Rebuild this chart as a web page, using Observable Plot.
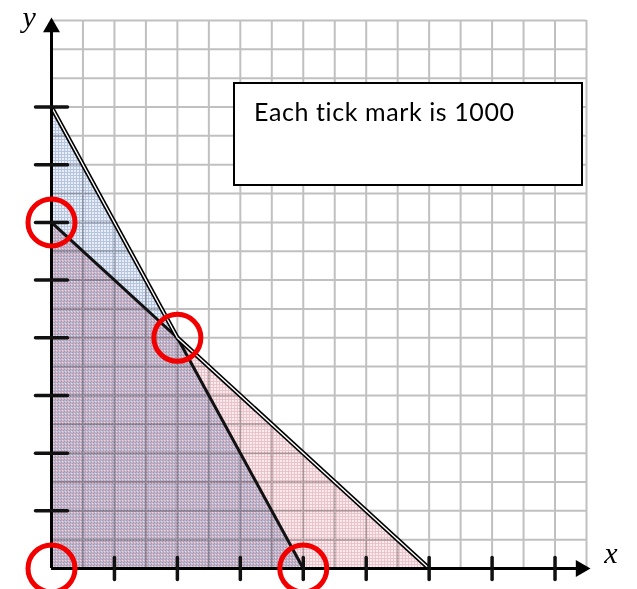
<!DOCTYPE html>
<html>
<head>
<meta charset="utf-8">
<script src="https://cdn.jsdelivr.net/npm/d3@7"></script>
<script src="https://cdn.jsdelivr.net/npm/@observablehq/plot@0.6"></script>
<style>
  html, body { margin: 0; padding: 0; background: #fff; }
  #wrap { position: relative; width: 637px; height: 589px; }
  #note {
    position: absolute; left: 233px; top: 82px; width: 350px; height: 104px;
    box-sizing: border-box; border: 2px solid #000; background: #fff;
    font-family: Lato, "Open Sans", sans-serif; font-size: 25px; line-height: 1;
    letter-spacing: 0.6px; color: #000;
  }
  #note span { position: absolute; left: 19px; top: 15px; white-space: nowrap; }
</style>
</head>
<body>
<div id="wrap"></div>
<script>
// Values in thousands: each tick mark is 1000
const xTicks = [1, 2, 3, 4, 5, 6, 7, 8];
const yTicks = [1, 2, 3, 4, 5, 6, 7, 8];

// Constraint boundaries (intercepts on each axis)
const lineA = [{x: 0, y: 8}, {x: 4, y: 0}];   // 2x + y = 8
const lineB = [{x: 0, y: 6}, {x: 6, y: 0}];   // x + y = 6
const corner = {x: 2, y: 4};                   // where the two boundaries meet

// Corner points of the feasible region
const vertices = [{x: 0, y: 0}, {x: 0, y: 6}, {x: 2, y: 4}, {x: 4, y: 0}];

const noteText = "Each tick mark is 1000";
const xLabel = "x";
const yLabel = "y";

// Grid extent (half-tick squares)
const xMax = 8.5, yMax = 9.5, step = 0.5;

// Outer edges drawn as double rules, inner edges as plain rules
const outerEdges = [[lineA[0], corner], [corner, lineB[1]]];
const innerEdges = [[lineB[0], corner], [corner, lineA[1]]];

// Hand-drawn style dash symbols for the tick marks
const dashH = {draw(ctx, size) { const r = Math.sqrt(size / Math.PI); ctx.moveTo(-r, 0); ctx.lineTo(r, 0); }};
const dashV = {draw(ctx, size) { const r = Math.sqrt(size / Math.PI); ctx.moveTo(0, -r); ctx.lineTo(0, r); }};

const seg = {x1: d => d[0].x, y1: d => d[0].y, x2: d => d[1].x, y2: d => d[1].y};

const chart = Plot.plot({
  width: 637,
  height: 589,
  marginLeft: 51,
  marginRight: 51,
  marginTop: 20,
  marginBottom: 21,
  x: {domain: [0, xMax], axis: null},
  y: {domain: [0, yMax], axis: null},
  marks: [
    // graph paper
    Plot.ruleX(d3.range(step, xMax + 1e-9, step), {y1: 0, y2: yMax, stroke: "#c0c0c0", strokeWidth: 2}),
    Plot.ruleY(d3.range(step, yMax + 1e-9, step), {x1: 0, x2: xMax, stroke: "#c0c0c0", strokeWidth: 2}),
    // shaded half-planes
    Plot.areaY(lineB, {x: "x", y: "y", fill: "url(#fillPink)", mixBlendMode: "multiply"}),
    Plot.areaY(lineA, {x: "x", y: "y", fill: "url(#fillBlue)", mixBlendMode: "multiply"}),
    // boundary lines
    Plot.link(innerEdges, {...seg, stroke: "#111", strokeWidth: 3}),
    Plot.link(outerEdges, {...seg, stroke: "#000", strokeWidth: 4.6}),
    Plot.link(outerEdges, {...seg, stroke: "#fff", strokeWidth: 1.4}),
    // axes
    Plot.ruleX([0], {y1: 0, y2: yMax, stroke: "#000", strokeWidth: 3}),
    Plot.ruleY([0], {x1: 0, x2: xMax, stroke: "#000", strokeWidth: 3}),
    Plot.dot([{x: 0, y: yMax}], {x: "x", y: "y", symbol: "triangle", r: 6.3, fill: "#000", dy: 6.8}),
    Plot.dot([{x: xMax, y: 0}], {x: "x", y: "y", symbol: "triangle", r: 6.3, fill: "#000", rotate: 90, dx: -5.8}),
    // tick marks
    Plot.dot(yTicks, {x: 0, y: d => d, symbol: dashH, r: 16, stroke: "#111", strokeWidth: 3.5, strokeLinecap: "round", fill: "none"}),
    Plot.dot(xTicks, {x: d => d, y: 0, symbol: dashV, r: 11, stroke: "#111", strokeWidth: 3.5, strokeLinecap: "round", fill: "none"}),
    // corner points
    Plot.dot(vertices, {x: "x", y: "y", r: 23.5, stroke: "#f20000", strokeWidth: 5, fill: "none"}),
    // axis names
    Plot.text([yLabel], {frameAnchor: "top-left", dx: -29, dy: -15, fontFamily: "Liberation Serif", fontStyle: "italic", fontSize: 30, fill: "#000"}),
    Plot.text([xLabel], {frameAnchor: "bottom-right", dx: 31, dy: -6, fontFamily: "Liberation Serif", fontStyle: "italic", fontSize: 30, fill: "#000"})
  ]
});

// Fine cross-hatched fills for the shaded regions
const defs = d3.select(chart).insert("defs", ":first-child");
function hatch(id, background, color, offset) {
  const p = defs.append("pattern").attr("id", id)
    .attr("width", 3).attr("height", 3).attr("patternUnits", "userSpaceOnUse");
  p.append("rect").attr("width", 3).attr("height", 3).attr("fill", background);
  p.append("path")
    .attr("d", `M0,${offset + 0.5}H3M${offset + 0.5},0V3`)
    .attr("stroke", color).attr("stroke-width", 1).attr("fill", "none");
}
hatch("fillPink", "#f9eaed", "#eac3cb", 0);
hatch("fillBlue", "#e8edf6", "#b6c5df", 1);

const wrap = document.getElementById("wrap");
wrap.appendChild(chart);
const note = document.createElement("div");
note.id = "note";
const span = document.createElement("span");
span.textContent = noteText;
note.appendChild(span);
wrap.appendChild(note);
</script>
</body>
</html>
